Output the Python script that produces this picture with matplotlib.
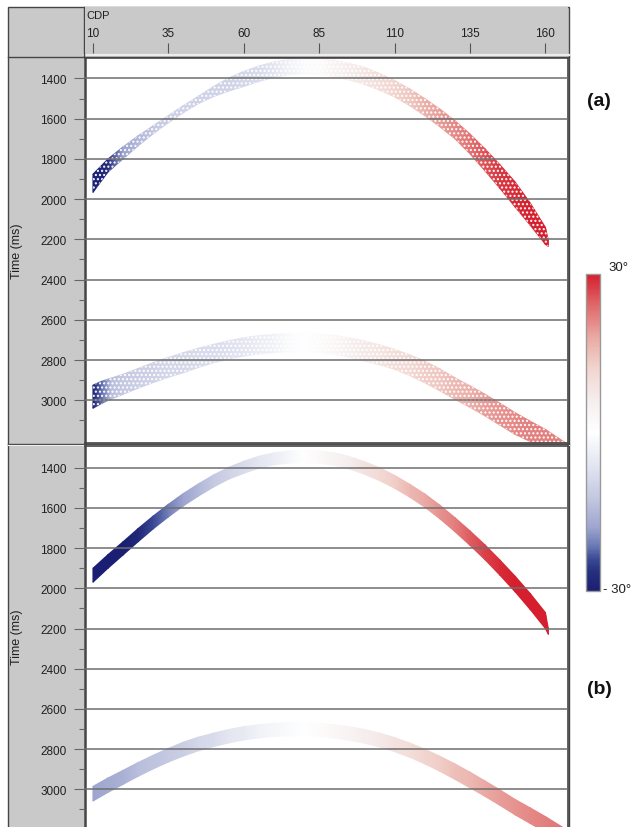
import numpy as np
import matplotlib
matplotlib.use("Agg")
import matplotlib.pyplot as plt
from matplotlib.colors import LinearSegmentedColormap, Normalize
from matplotlib.patches import Rectangle
from matplotlib.cm import ScalarMappable

W, H = 636, 828

# ---------------- data ----------------
cdp_ticks = [10, 35, 60, 85, 110, 135, 160]
time_ticks = [1400, 1600, 1800, 2000, 2200, 2400, 2600, 2800, 3000]
time_minor = [1500, 1700, 1900, 2100, 2300, 2500, 2700, 2900, 3100]

# panel (a): upper event (noisy dip estimate)
a1_cdp = [10, 15, 20, 25, 30, 35, 40, 45, 50, 55, 60, 65, 70, 75, 80, 85, 90, 95, 100, 105,
          110, 115, 120, 125, 130, 135, 140, 145, 150, 155, 160, 161]
a1_top = [1876, 1800, 1740, 1685, 1635, 1585, 1535, 1488, 1440, 1398, 1365, 1338, 1318, 1306, 1300, 1302,
          1310, 1325, 1345, 1375, 1410, 1452, 1500, 1552, 1610, 1676, 1750, 1830, 1915, 2020, 2140, 2205]
a1_bot = [1967, 1865, 1800, 1735, 1675, 1620, 1570, 1525, 1490, 1463, 1440, 1415, 1395, 1382, 1376, 1380,
          1390, 1408, 1430, 1458, 1492, 1535, 1585, 1640, 1700, 1775, 1860, 1948, 2040, 2130, 2225, 2235]
a1_dip = [-30, -27, -18, -15, -12, -11, -10, -10, -10, -10, -9, -8, -6, -3, -1, 1,
          4, 6, 8, 10, 12, 14, 17, 19, 21, 23, 26, 28, 29, 30, 30, 30]

# panel (a): lower event
a2_cdp = [10, 13, 16, 20, 25, 30, 35, 40, 45, 50, 55, 60, 65, 70, 75, 80, 85, 90, 95, 100,
          105, 110, 115, 120, 125, 130, 135, 140, 145, 150, 155, 160, 167]
a2_top = [2925, 2905, 2890, 2871, 2842, 2813, 2787, 2763, 2741, 2722, 2704, 2689, 2679, 2672, 2668, 2667,
          2670, 2677, 2689, 2705, 2724, 2747, 2774, 2805, 2844, 2888, 2928, 2970, 3015, 3062, 3104, 3145, 3215]
a2_bot = [3040, 3015, 2995, 2970, 2940, 2912, 2886, 2863, 2837, 2813, 2795, 2780, 2770, 2763, 2759, 2758,
          2762, 2772, 2786, 2805, 2824, 2846, 2877, 2913, 2953, 2995, 3035, 3078, 3124, 3170, 3205, 3240, 3300]
a2_dip = [-30, -22, -14, -12, -11, -10, -9, -9, -8, -8, -7, -6, -4, -3, -1, 0,
          1, 3, 5, 7, 8, 10, 11, 13, 14, 16, 17, 19, 20, 21, 22, 22, 22]

# panel (b): upper event (smooth dip estimate)
b1_cdp = [10, 15, 20, 25, 30, 35, 40, 45, 50, 55, 60, 65, 70, 75, 80, 85, 90, 95, 100, 105,
          110, 115, 120, 125, 130, 135, 140, 145, 150, 155, 160, 161]
b1_top = [1900, 1832, 1768, 1702, 1640, 1582, 1528, 1480, 1436, 1398, 1368, 1343, 1326, 1316, 1314, 1316,
          1326, 1344, 1370, 1400, 1438, 1482, 1530, 1586, 1648, 1714, 1784, 1860, 1940, 2026, 2120, 2200]
b1_bot = [1970, 1900, 1834, 1768, 1704, 1645, 1590, 1541, 1496, 1457, 1428, 1403, 1386, 1377, 1375, 1377,
          1388, 1407, 1432, 1464, 1502, 1546, 1596, 1654, 1718, 1786, 1858, 1936, 2018, 2106, 2200, 2230]
b1_dip = [-30, -30, -30, -28, -24, -21, -18, -15, -12, -10, -8, -6, -4, -2, 0, 2,
          4, 6, 9, 11, 13, 16, 18, 20, 22, 25, 27, 29, 30, 30, 30, 30]

# panel (b): lower event
b2_cdp = [10, 15, 20, 25, 30, 35, 40, 45, 50, 55, 60, 65, 70, 75, 80, 85, 90, 95, 100, 105,
          110, 115, 120, 125, 130, 135, 140, 145, 150, 155, 160, 167]
b2_top = [2985, 2943, 2905, 2866, 2830, 2796, 2765, 2740, 2720, 2702, 2688, 2678, 2671, 2668, 2667, 2670,
          2678, 2688, 2702, 2720, 2742, 2769, 2800, 2835, 2873, 2914, 2958, 3003, 3050, 3092, 3135, 3200]
b2_bot = [3058, 3015, 2975, 2935, 2898, 2864, 2834, 2808, 2787, 2769, 2754, 2744, 2737, 2734, 2734, 2737,
          2745, 2756, 2770, 2789, 2812, 2840, 2873, 2910, 2950, 2992, 3035, 3080, 3127, 3170, 3212, 3280]
b2_dip = [-18, -17, -16, -14, -13, -12, -11, -9, -8, -6, -5, -3, -2, -1, 0, 1,
          3, 4, 6, 7, 9, 10, 12, 13, 15, 16, 18, 19, 20, 21, 22, 23]

cbar_labels = ["30\u00b0", "- 30\u00b0"]
panel_labels = ["(a)", "(b)"]

# ---------------- style ----------------
cmap = LinearSegmentedColormap.from_list("dip", [
    (0.00, "#1b1f73"), (0.06, "#26307e"), (0.10, "#3a4a95"), (0.14, "#6a78b4"),
    (0.20, "#9ea6cf"), (0.30, "#c6cae2"), (0.40, "#e4e6f1"), (0.50, "#ffffff"),
    (0.60, "#f6eeee"), (0.70, "#f2d6d0"), (0.80, "#eaaaa4"), (0.90, "#e06a6c"),
    (1.00, "#d51f2e")])
GRAY = "#c9c9c9"
DARK = "#454545"
NARROW = ["Liberation Sans Narrow", "Liberation Sans", "DejaVu Sans"]
SANS = ["Liberation Sans", "DejaVu Sans"]

fig = plt.figure(figsize=(W / 100, H / 100), dpi=100)


def rect(x0, y0, x1, y1):
    return [x0 / W, 1 - y1 / H, (x1 - x0) / W, (y1 - y0) / H]


# background frame in pixel coordinates
bg = fig.add_axes([0, 0, 1, 1])
bg.set_xlim(0, W)
bg.set_ylim(H, 0)
bg.axis("off")
bg.add_patch(Rectangle((8, 8), 561, 830, facecolor=GRAY, edgecolor=DARK, lw=1.0))
bg.plot([84, 569], [55.5, 55.5], color="#ececec", lw=1.6)
bg.plot([8, 569], [57.5, 57.5], color=DARK, lw=1.0)
bg.plot([84, 84], [8, 57], color=DARK, lw=1.0)
bg.plot([8, 569], [444.5, 444.5], color=DARK, lw=1.0)
bg.plot([8, 569], [446.0, 446.0], color="#eeeeee", lw=0.8)

XLIM = (7.2, 167.5)

# header with CDP axis
hx = fig.add_axes(rect(84.5, 8, 568, 54))
hx.set_facecolor(GRAY)
hx.set_xlim(*XLIM)
hx.set_ylim(0, 1)
for s in hx.spines.values():
    s.set_visible(False)
hx.set_yticks([])
hx.set_xticks(cdp_ticks)
hx.set_xticklabels([str(v) for v in cdp_ticks], family=NARROW, fontsize=8.5, color="#202020")
hx.tick_params(axis="x", direction="in", length=7, width=0.8, color="#555555", pad=-19)
hx.text(0.004, 0.94, "CDP", transform=hx.transAxes, fontsize=8, family=NARROW,
        va="top", ha="left", color="#202020")


def band(ax, cdp, top, bot, dip, hatch=None):
    x = np.array([cdp, cdp], float)
    y = np.array([top, bot], float)
    c = np.array([dip, dip], float)
    ax.pcolormesh(x, y, c, shading="gouraud", cmap=cmap, vmin=-30, vmax=30, zorder=2)
    if hatch:
        ax.fill_between(cdp, top, bot, facecolor="none", edgecolor="white",
                        hatch=hatch, linewidth=0, zorder=2.2)


def panel(y0, y1, tlim, events, hatch):
    ax = fig.add_axes(rect(84.5, y0, 568, y1))
    ax.set_xlim(*XLIM)
    ax.set_ylim(tlim[1], tlim[0])
    for s in ax.spines.values():
        s.set_color(DARK)
        s.set_linewidth(1.2)
    ax.spines["left"].set_linewidth(1.8)
    ax.set_xticks([])
    ax.set_yticks(time_ticks)
    ax.set_yticks(time_minor, minor=True)
    ax.set_yticklabels([str(v) for v in time_ticks], family=NARROW, fontsize=8.5, color="#202020")
    ax.tick_params(axis="y", which="major", direction="out", length=8, width=0.8,
                   color="#666666", pad=5)
    ax.tick_params(axis="y", which="minor", direction="out", length=4, width=0.8,
                   color="#666666")
    ax.set_axisbelow(False)
    ax.yaxis.grid(True, which="major", color="#6e6e6e", lw=1.1)
    for ev in events:
        band(ax, *ev, hatch=hatch)
    ax.set_ylabel("Time (ms)", family=NARROW, fontsize=9, color="#202020")
    yc = 0.5 if y1 <= H else (y1 - (y0 + H) / 2) / (y1 - y0)
    ax.yaxis.set_label_coords(-(84.5 - 23) / (568 - 84.5), yc)
    return ax


axa = panel(58.5, 443.5, (1296, 3210),
            [(a1_cdp, a1_top, a1_bot, a1_dip), (a2_cdp, a2_top, a2_bot, a2_dip)], hatch="....")
axb = panel(447, 830, (1292, 3197),
            [(b1_cdp, b1_top, b1_bot, b1_dip), (b2_cdp, b2_top, b2_bot, b2_dip)], hatch=None)

# colour bar
cax = fig.add_axes(rect(586, 275, 600, 592))
cb = fig.colorbar(ScalarMappable(norm=Normalize(-30, 30), cmap=cmap), cax=cax)
cb.set_ticks([])
cb.outline.set_edgecolor("#9a9a9a")
cb.outline.set_linewidth(1.0)
bg.text(608, 268, cbar_labels[0], fontsize=9.5, ha="left", va="center", color="#202020", family=SANS)
bg.text(603, 590, cbar_labels[1], fontsize=9.5, ha="left", va="center", color="#202020", family=SANS)

bg.text(599, 102, panel_labels[0], fontsize=14, fontweight="bold", ha="center", va="center",
        family=SANS, color="#111111")
bg.text(599, 690, panel_labels[1], fontsize=14, fontweight="bold", ha="center", va="center",
        family=SANS, color="#111111")

fig.savefig("out.png", dpi=100)
